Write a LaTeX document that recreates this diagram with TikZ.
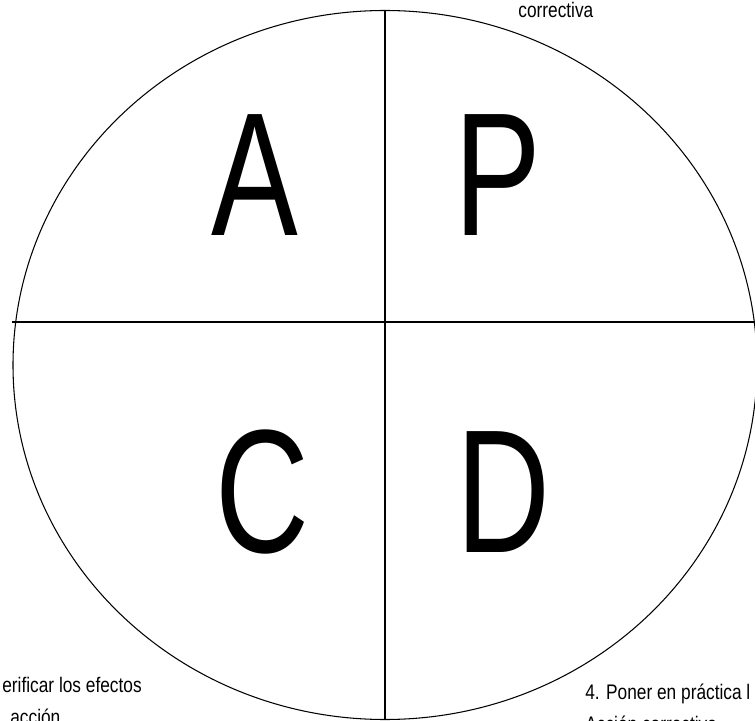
\documentclass[tikz,border=0pt]{standalone}
\usepackage{fontspec}
\setmainfont{Liberation Sans}[FakeStretch=0.82]
\newfontfamily\quadfont{Liberation Sans}[FakeStretch=0.74]
\usetikzlibrary{positioning,shapes.geometric}
\tikzset{
  cycle/.style  = {draw, ellipse, line width=0.6pt, inner sep=0pt,
                   minimum width=14.88cm, minimum height=14.18cm},
  axis/.style   = {line width=0.6pt},
  quad/.style   = {inner sep=0pt, font=\quadfont\fontsize{100}{100}\selectfont},
  note/.style   = {inner sep=0pt, align=left,
                   font=\fontsize{12}{18}\selectfont}
}

\begin{document}
\begin{tikzpicture}
  \useasboundingbox (0,0) rectangle (15.1,14.4);
  \clip (0,0) rectangle (15.1,14.4);

  \node[cycle] (pdca) at (7.70,7.10) {};
  \coordinate (hleft)  at (0.24,7.96);
  \coordinate (hright) at (15.2,7.96);

  \draw[axis] (pdca.north) -- (pdca.south);
  \draw[axis] (hleft) -- (hright);

  % the four letters of the cycle
  \node[quad] (act)   at (5.10,10.90) {A};
  \node[quad] (plan)  at (9.96,10.90) {P};
  \node[quad] (check) at (5.24,4.56)  {C};
  \node[quad] (do)    at (10.06,4.56) {D};

  % step notes, cut by the page edge
  \node[note, anchor=base west] (step3) at (10.36,14.04) {correctiva};
  \node[note, anchor=north west] (step5) at (0.04,0.86)
        {erificar los efectos\\\hspace*{0.16cm}acción};
  \node[note, anchor=north west] (step4) at (11.70,0.72)
        {4. Poner en práctica l\\Acción correctiva};
\end{tikzpicture}
\end{document}
